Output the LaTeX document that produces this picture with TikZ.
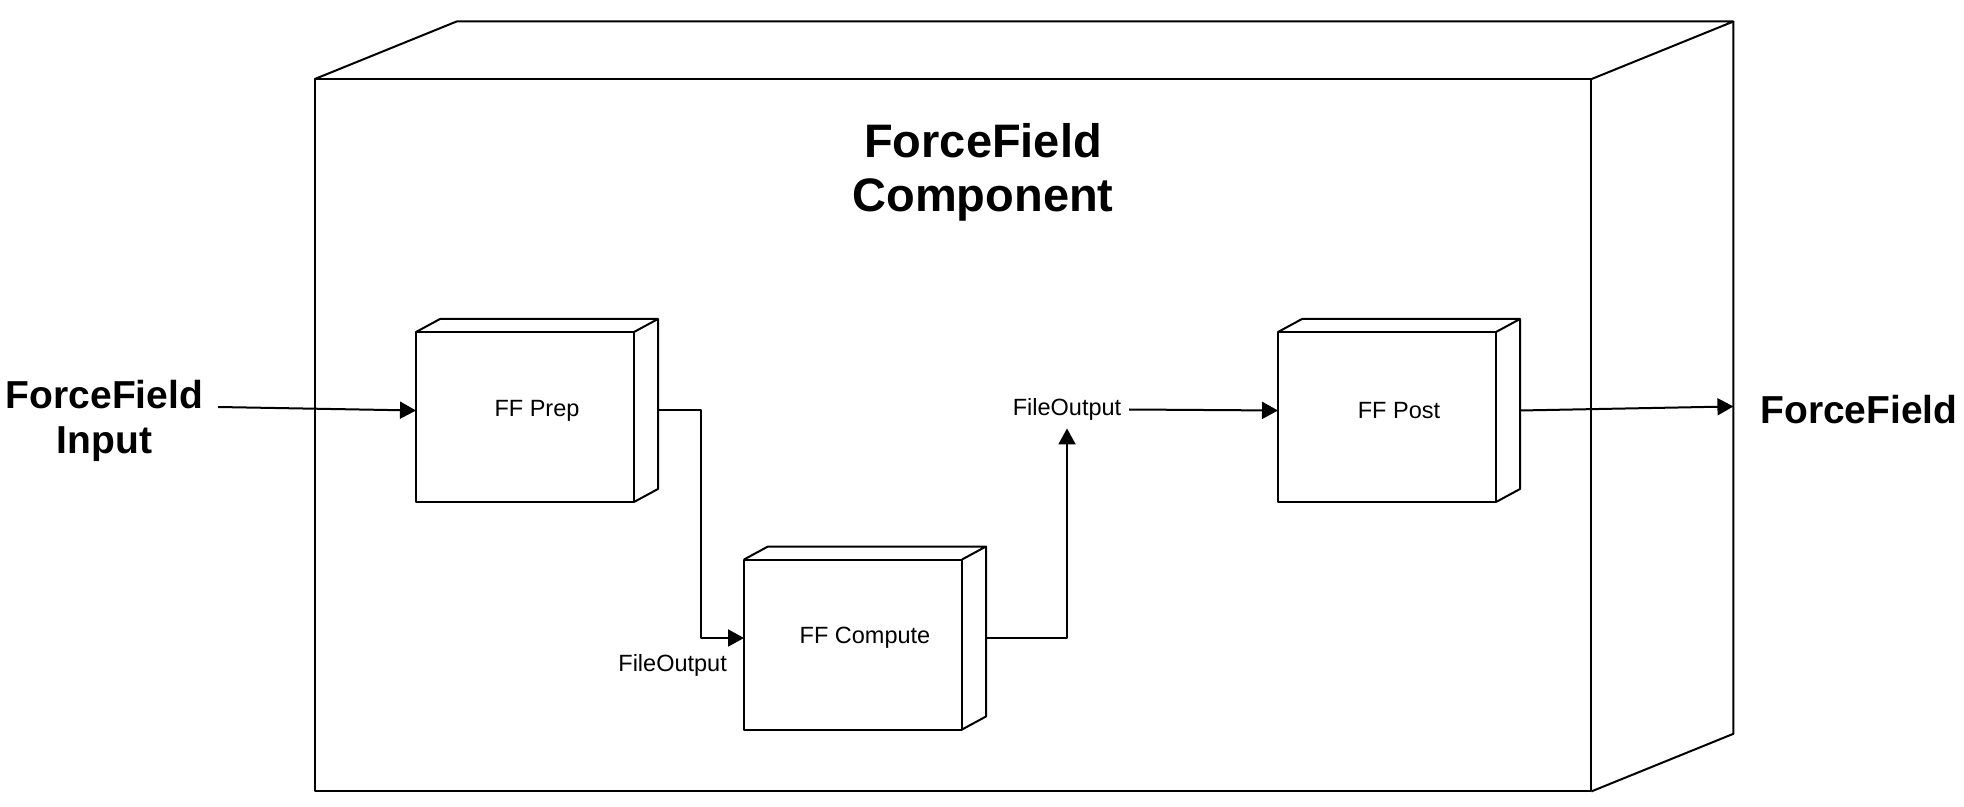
\documentclass[tikz,border=0pt]{standalone}
\usepackage{fontspec}
\setmainfont{Liberation Sans}
\usetikzlibrary{arrows.meta,calc}
\begin{document}
\begin{tikzpicture}[x=0.5pt,y=-0.5pt,
  line width=1pt, line join=round,
  every node/.style={inner sep=0pt},
  cubebox/.style={minimum width=120pt, minimum height=90.5pt, font=\fontsize{11.75}{14}\selectfont},
  bigbox/.style={minimum width=708.4pt, minimum height=383.95pt},
  conn/.style={line width=1pt, -{Triangle[length=8pt,width=8.5pt]}},
  biglabel/.style={font=\fontsize{19.5}{22.5}\selectfont\bfseries, align=center},
  titlelabel/.style={font=\fontsize{23.5}{27}\selectfont\bfseries, align=center},
  smalllabel/.style={font=\fontsize{11.75}{14}\selectfont}
]
\useasboundingbox (0,0) rectangle (1964,807);

% big component cube
\node[bigbox] (ffc) at (1024,406.45) {};
\draw (ffc.south west) rectangle ($(ffc.north east)+(-142,57.6)$);
\draw ($(ffc.north west)+(0,57.6)$) -- ($(ffc.north west)+(142,0)$) -- (ffc.north east) -- ($(ffc.north east)+(-142,57.6)$);
\draw (ffc.north east) -- ($(ffc.south east)+(0,-57.6)$) -- ($(ffc.south east)+(-142,0)$);

\node[titlelabel] (title) at (983,172) {ForceField\\Component};

% small cubes
\node[cubebox] (prep) at (537,410.5) {FF Prep};
\node[cubebox] (comp) at (865,638) {\raisebox{-2pt}{FF Compute}};
\node[cubebox] (post) at (1399,410.5) {FF Post};

\foreach \n in {prep,comp,post} {
  \draw (\n.south west) rectangle ($(\n.north east)+(-24,13)$);
  \draw ($(\n.north west)+(0,13)$) -- ($(\n.north west)+(24,0)$) -- (\n.north east) -- ($(\n.north east)+(-24,13)$);
  \draw (\n.north east) -- ($(\n.south east)+(0,-13)$) -- ($(\n.south east)+(-24,0)$);
}

% labels
\node[biglabel, inner sep=7pt] (inl) at (104.5,420.5) {ForceField\\Input};
\node[biglabel] (outl) at (1859,410) {ForceField};
\node[smalllabel] (fo1) at (672.6,665) {FileOutput};
\node[smalllabel, inner sep=3.5pt] (fo2) at (1067,409.5) {FileOutput};

% connectors
\draw[conn] ([yshift=6.75pt]inl.east) -- (prep.west);
\draw[conn] (prep.east) -| ($(prep.east)!0.5!(comp.west)$) |- (comp.west);
\draw[conn] (comp.east) -| (fo2.south);
\draw[conn] (fo2.east) -- (post.west);
\draw[conn] (post.east) -- (ffc.east);
\end{tikzpicture}
\end{document}
